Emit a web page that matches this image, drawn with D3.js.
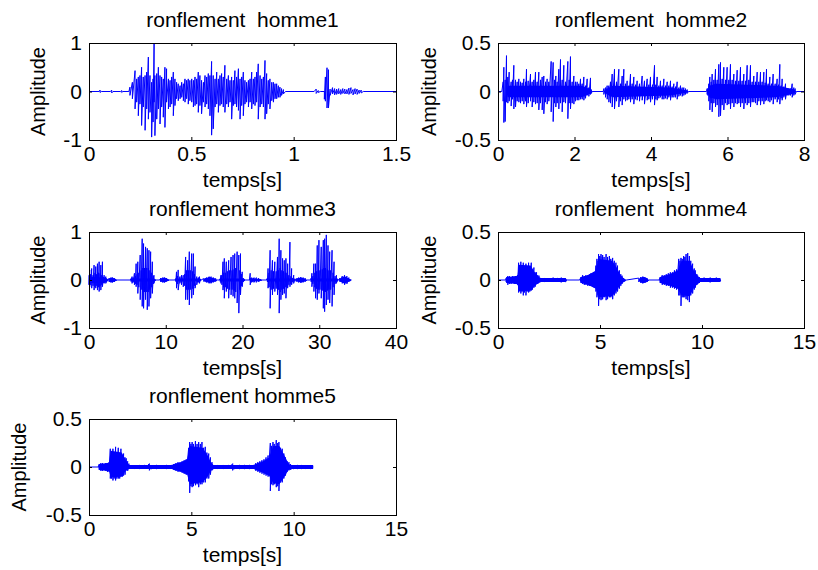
<!DOCTYPE html>
<html>
<head>
<meta charset="utf-8">
<script src="https://cdn.jsdelivr.net/npm/d3@7"></script>
<style>
body { margin: 0; background: #fff; }
svg text { font-family: "Liberation Sans", Arial, sans-serif; fill: #000; }
</style>
</head>
<body>
<div id="chart"></div>
<script>
// titles and ticks
const titles = ["ronflement  homme1", "ronflement  homme2", "ronflement homme3", "ronflement  homme4", "ronflement homme5"];
const xTicks = [[0, 0.5, 1, 1.5], [0, 2, 4, 6, 8], [0, 10, 20, 30, 40], [0, 5, 10, 15], [0, 5, 10, 15]];
const yTicks = [[-1, 0, 1], [-0.5, 0, 0.5], [-1, 0, 1], [-0.5, 0, 0.5], [-0.5, 0, 0.5]];
const xLabel = "temps[s]";
const yLabel = "Amplitude";

// waveform peaks: [time s, upper peak, lower peak]
const homme1 = [
  [0,0,0],[0.05,0,0],[0.054,0.03,-0.02],[0.06,0,0],[0.105,0,0],[0.111,0.03,-0.03],[0.117,0,0],[0.155,0,0],[0.16,0.02,-0.02],[0.165,0,0],[0.195,0,0],
  [0.2,0.09,-0.08],[0.212,0.19,-0.15],[0.225,0.43,-0.36],[0.233,0.26,-0.22],[0.241,0.3,-0.5],[0.249,0.33,-0.26],[0.257,0.5,-0.7],[0.265,0.3,-0.32],
  [0.274,0.33,-0.8],[0.282,0.4,-0.36],[0.29,0.71,-0.57],[0.298,0.33,-0.43],[0.306,0.19,-0.94],[0.313,0.26,-0.63],[0.318,0.99,-0.22],[0.322,0.33,-0.91],
  [0.331,0.37,-0.57],[0.339,0.5,-0.36],[0.347,0.33,-0.67],[0.355,0.3,-0.32],[0.363,0.26,-0.53],[0.371,0.5,-0.74],[0.379,0.47,-0.22],[0.388,0.26,-0.36],
  [0.396,0.23,-0.32],[0.404,0.3,-0.26],[0.412,0.4,-0.5],[0.42,0.26,-0.29],[0.428,0.19,-0.15],[0.436,0.16,-0.19],[0.445,0.12,-0.15],[0.453,0.19,-0.12],
  [0.461,0.16,-0.19],[0.469,0.26,-0.22],[0.477,0.23,-0.15],[0.485,0.26,-0.26],[0.493,0.23,-0.19],[0.502,0.26,-0.22],[0.51,0.23,-0.32],[0.518,0.3,-0.29],
  [0.526,0.26,-0.26],[0.534,0.4,-0.43],[0.542,0.33,-0.29],[0.55,0.23,-0.46],[0.559,0.19,-0.22],[0.567,0.33,-0.32],[0.575,0.3,-0.26],[0.583,0.37,-0.36],
  [0.591,0.33,-0.5],[0.599,0.62,-0.9],[0.607,0.33,-0.77],[0.616,0.26,-0.32],[0.624,0.4,-0.26],[0.632,0.26,-0.43],[0.64,0.33,-0.29],[0.648,0.37,-0.26],
  [0.656,0.3,-0.32],[0.664,0.54,-0.43],[0.673,0.26,-0.26],[0.681,0.33,-0.32],[0.689,0.23,-0.22],[0.697,0.3,-0.57],[0.705,0.23,-0.29],[0.713,0.43,-0.26],
  [0.721,0.3,-0.32],[0.73,0.47,-0.39],[0.738,0.26,-0.57],[0.746,0.3,-0.29],[0.754,0.4,-0.5],[0.762,0.23,-0.26],[0.77,0.19,-0.22],[0.779,0.23,-0.32],
  [0.787,0.26,-0.22],[0.795,0.4,-0.36],[0.803,0.26,-0.26],[0.811,0.3,-0.29],[0.819,0.4,-0.22],[0.827,0.57,-0.57],[0.836,0.33,-0.32],[0.844,0.26,-0.26],
  [0.852,0.3,-0.32],[0.86,0.64,-0.57],[0.868,0.37,-0.46],[0.876,0.23,-0.26],[0.884,0.26,-0.36],[0.893,0.19,-0.19],[0.901,0.19,-0.22],[0.909,0.16,-0.15],
  [0.917,0.16,-0.15],[0.925,0.12,-0.12],[0.933,0.09,-0.12],[0.941,0.06,-0.08],[0.95,0.04,-0.05],[0.96,0,0],
  [1.1,0,0],[1.11,0.05,-0.04],[1.12,0.02,-0.02],[1.13,0,0],[1.15,0,-0.16],[1.155,0.3,-0.2],[1.163,0.49,-0.34],[1.17,0.45,-0.34],[1.178,0.05,-0.08],
  [1.19,0.08,-0.05],[1.2,0.06,-0.07],[1.21,0.05,-0.06],[1.22,0.06,-0.05],[1.23,0.04,-0.06],[1.24,0.06,-0.04],[1.25,0.05,-0.05],[1.26,0.04,-0.05],
  [1.27,0.07,-0.06],[1.28,0.08,-0.04],[1.29,0.04,-0.07],[1.3,0.06,-0.05],[1.31,0.05,-0.06],[1.32,0.03,-0.04],[1.33,0.03,-0.03],[1.34,0,0],[1.5,0,0]
];

const homme2 = [
  [0,0,0],[0.1,0,0],[0.135,0.1,-0.1],[0.153,0.25,-0.32],[0.187,0.12,-0.31],[0.222,0.37,-0.11],[0.257,0.15,-0.12],[0.292,0.2,-0.1],[0.344,0.1,-0.15],
  [0.379,0.12,-0.08],[0.414,0.27,-0.18],[0.458,0.12,-0.16],[0.501,0.1,-0.1],[0.545,0.13,-0.11],[0.588,0.1,-0.12],[0.632,0.09,-0.1],[0.675,0.13,-0.13],
  [0.719,0.1,-0.1],[0.745,0.23,-0.16],[0.789,0.11,-0.12],[0.85,0.18,-0.1],[0.893,0.1,-0.16],[0.937,0.12,-0.11],[0.98,0.2,-0.13],[1.024,0.1,-0.12],
  [1.067,0.2,-0.19],[1.111,0.12,-0.12],[1.155,0.15,-0.19],[1.198,0.16,-0.23],[1.242,0.1,-0.11],[1.285,0.13,-0.13],[1.329,0.1,-0.1],[1.39,0.31,-0.21],
  [1.442,0.3,-0.31],[1.477,0.12,-0.12],[1.512,0.16,-0.16],[1.547,0.1,-0.12],[1.59,0.23,-0.18],[1.634,0.33,-0.12],[1.678,0.12,-0.21],[1.721,0.27,-0.11],
  [1.765,0.1,-0.12],[1.826,0.31,-0.28],[1.861,0.12,-0.12],[1.895,0.36,-0.18],[1.939,0.1,-0.12],[1.983,0.16,-0.13],[2.026,0.1,-0.1],[2.07,0.1,-0.09],
  [2.113,0.08,-0.09],[2.157,0.13,-0.08],[2.2,0.08,-0.08],[2.244,0.15,-0.09],[2.288,0.06,-0.07],[2.331,0.13,-0.04],[2.375,0.04,-0.05],[2.418,0.14,-0.03],
  [2.44,0.02,-0.02],[2.46,0,0],[2.75,0,0],
  [2.767,0.03,-0.03],[2.81,0.04,-0.06],[2.854,0.06,-0.08],[2.898,0.06,-0.11],[2.941,0.1,-0.12],[2.985,0.18,-0.16],[3.046,0.23,-0.18],[3.098,0.1,-0.1],
  [3.159,0.23,-0.16],[3.203,0.08,-0.1],[3.246,0.16,-0.14],[3.29,0.23,-0.08],[3.333,0.08,-0.1],[3.377,0.11,-0.09],[3.42,0.06,-0.08],[3.464,0.18,-0.11],
  [3.508,0.08,-0.08],[3.551,0.15,-0.13],[3.595,0.07,-0.08],[3.638,0.11,-0.09],[3.699,0.08,-0.1],[3.769,0.16,-0.09],[3.83,0.11,-0.13],[3.9,0.13,-0.09],
  [3.943,0.07,-0.08],[3.987,0.15,-0.11],[4.039,0.07,-0.08],[4.092,0.27,-0.14],[4.126,0.07,-0.08],[4.161,0.15,-0.09],[4.205,0.06,-0.07],[4.248,0.11,-0.06],
  [4.292,0.06,-0.08],[4.336,0.13,-0.08],[4.379,0.06,-0.07],[4.423,0.1,-0.08],[4.466,0.06,-0.06],[4.51,0.11,-0.09],[4.553,0.05,-0.06],[4.597,0.08,-0.06],
  [4.641,0.05,-0.06],[4.684,0.1,-0.08],[4.728,0.04,-0.05],[4.771,0.06,-0.04],[4.815,0.04,-0.05],[4.858,0.04,-0.04],[4.902,0.03,-0.03],[4.946,0.02,-0.02],
  [4.98,0,0],[5.45,0,0],
  [5.468,0.03,-0.03],[5.486,0.03,-0.04],[5.512,0.08,-0.1],[5.538,0.15,-0.19],[5.573,0.1,-0.12],[5.599,0.18,-0.21],[5.643,0.12,-0.12],[5.686,0.23,-0.16],
  [5.73,0.12,-0.14],[5.773,0.28,-0.26],[5.817,0.3,-0.25],[5.86,0.13,-0.14],[5.904,0.25,-0.19],[5.948,0.12,-0.12],[5.991,0.25,-0.14],[6.035,0.12,-0.13],
  [6.078,0.28,-0.18],[6.122,0.12,-0.12],[6.166,0.18,-0.16],[6.209,0.11,-0.12],[6.253,0.22,-0.13],[6.296,0.11,-0.12],[6.34,0.25,-0.16],[6.383,0.11,-0.12],
  [6.427,0.18,-0.18],[6.471,0.11,-0.12],[6.514,0.27,-0.14],[6.558,0.12,-0.12],[6.601,0.27,-0.16],[6.645,0.1,-0.11],[6.688,0.16,-0.11],[6.732,0.1,-0.12],
  [6.776,0.2,-0.14],[6.819,0.1,-0.1],[6.863,0.2,-0.14],[6.906,0.1,-0.1],[6.95,0.2,-0.13],[6.985,0.09,-0.1],[7.02,0.23,-0.09],[7.063,0.08,-0.1],
  [7.107,0.15,-0.11],[7.15,0.08,-0.09],[7.194,0.18,-0.13],[7.246,0.08,-0.08],[7.298,0.13,-0.11],[7.333,0.07,-0.08],[7.368,0.28,-0.13],[7.403,0.06,-0.07],
  [7.429,0.13,-0.09],[7.473,0.05,-0.06],[7.516,0.08,-0.08],[7.56,0.03,-0.04],[7.603,0.03,-0.04],[7.647,0.03,-0.04],[7.691,0.08,-0.06],[7.734,0.04,-0.04],
  [7.769,0.03,-0.03],[7.8,0,0],[8,0,0]
];

const homme3 = [
  [0,0.1,-0.1],[0.09,0.21,-0.14],[0.22,0.12,-0.1],[0.35,0.24,-0.17],[0.53,0.1,-0.12],[0.66,0.31,-0.21],[0.79,0.15,-0.14],[0.88,0.28,-0.17],
  [1.01,0.12,-0.12],[1.1,0.34,-0.21],[1.23,0.15,-0.15],[1.32,0.38,-0.24],[1.45,0.14,-0.13],[1.54,0.31,-0.21],[1.67,0.1,-0.1],[1.75,0.38,-0.14],
  [1.89,0.06,-0.06],[1.97,0.1,-0.07],[2.19,0.07,-0.07],[2.41,0.02,-0.02],[2.55,0,0],
  [2.63,0.04,-0.04],[2.85,0.05,-0.05],[3.07,0.05,-0.05],[3.29,0.04,-0.04],[3.5,0.02,-0.02],[3.6,0,0],[5.4,0,0],
  [5.48,0.03,-0.03],[5.61,0.07,-0.07],[5.75,0.05,-0.05],[5.92,0.14,-0.1],[6.05,0.08,-0.08],[6.14,0.34,-0.14],[6.27,0.12,-0.1],[6.36,0.38,-0.28],
  [6.49,0.15,-0.15],[6.67,0.52,-0.41],[6.8,0.2,-0.2],[6.93,0.86,-0.55],[7.02,0.25,-0.25],[7.11,0.76,-0.59],[7.24,0.25,-0.25],[7.37,0.69,-0.41],
  [7.46,0.25,-0.25],[7.59,0.66,-0.62],[7.72,0.25,-0.25],[7.81,0.62,-0.55],[7.94,0.2,-0.2],[8.03,0.59,-0.38],[8.16,0.15,-0.15],[8.25,0.38,-0.28],
  [8.38,0.08,-0.08],[8.46,0.1,-0.07],[8.6,0.02,-0.02],[8.7,0,0],[9.2,0,0],
  [9.35,0.04,-0.04],[9.6,0.05,-0.05],[9.85,0.05,-0.05],[10.1,0.04,-0.03],[10.3,0.02,-0.02],[10.4,0,0],[11.2,0,0],
  [11.32,0.03,-0.03],[11.4,0.17,-0.17],[11.54,0.08,-0.08],[11.62,0.21,-0.21],[11.84,0.07,-0.07],[12.06,0.1,-0.1],[12.28,0.1,-0.14],[12.46,0.12,-0.12],
  [12.59,0.48,-0.41],[12.72,0.2,-0.2],[12.85,0.41,-0.41],[12.98,0.2,-0.2],[13.07,0.59,-0.52],[13.2,0.2,-0.2],[13.38,0.55,-0.38],[13.51,0.18,-0.18],
  [13.6,0.55,-0.31],[13.73,0.12,-0.12],[13.82,0.28,-0.17],[14.04,0.07,-0.1],[14.25,0.05,-0.05],[14.39,0.07,-0.07],[14.52,0.02,-0.02],[14.6,0,0],
  [14.95,0.03,-0.03],[15.3,0.05,-0.05],[15.65,0.07,-0.07],[15.9,0.07,-0.07],[16.2,0.05,-0.05],[16.5,0.03,-0.03],[16.7,0,0],[17,0,0],
  [17.1,0.03,-0.03],[17.19,0.1,-0.07],[17.32,0.1,-0.1],[17.46,0.38,-0.21],[17.54,0.15,-0.15],[17.63,0.45,-0.38],[17.76,0.15,-0.15],[17.89,0.38,-0.24],
  [18.03,0.18,-0.18],[18.2,0.41,-0.38],[18.33,0.2,-0.2],[18.51,0.48,-0.31],[18.64,0.2,-0.2],[18.77,0.52,-0.34],[18.9,0.22,-0.22],[18.99,0.55,-0.38],
  [19.12,0.25,-0.25],[19.3,0.59,-0.48],[19.52,0.52,-0.69],[19.65,0.2,-0.2],[19.74,0.55,-0.31],[19.87,0.12,-0.12],[19.96,0.17,-0.14],[20.09,0.04,-0.04],
  [20.22,0.02,-0.02],[20.3,0,0],[20.9,0,0],
  [21,0.14,-0.1],[21.2,0.05,-0.05],[21.5,0.05,-0.05],[21.8,0.05,-0.05],[22.1,0.04,-0.04],[22.4,0.02,-0.02],[22.5,0,0],[23.1,0,0],
  [23.25,0.04,-0.04],[23.33,0.24,-0.17],[23.46,0.15,-0.15],[23.6,0.62,-0.59],[23.73,0.2,-0.2],[23.9,0.41,-0.31],[24.04,0.18,-0.18],[24.21,0.38,-0.24],
  [24.39,0.18,-0.18],[24.56,0.48,-0.31],[24.69,0.2,-0.2],[24.78,0.86,-0.69],[24.91,0.25,-0.25],[25,0.62,-0.41],[25.13,0.2,-0.2],[25.22,0.45,-0.31],
  [25.35,0.18,-0.18],[25.44,0.41,-0.28],[25.57,0.15,-0.15],[25.66,0.45,-0.38],[25.79,0.15,-0.15],[25.88,0.34,-0.17],[26.05,0.1,-0.1],[26.18,0.79,-0.14],
  [26.32,0.08,-0.08],[26.4,0.24,-0.1],[26.54,0.04,-0.04],[26.67,0.1,-0.07],[26.8,0.02,-0.02],[26.9,0,0],
  [27,0.03,-0.03],[27.3,0.05,-0.05],[27.6,0.06,-0.06],[27.9,0.05,-0.05],[28.2,0.03,-0.03],[28.4,0,0],[28.9,0,0],
  [28.95,0.04,-0.04],[29.04,0.14,-0.14],[29.17,0.08,-0.08],[29.3,0.34,-0.24],[29.43,0.15,-0.15],[29.52,0.34,-0.38],[29.65,0.18,-0.18],[29.74,0.72,-0.41],
  [29.87,0.2,-0.2],[29.96,0.83,-0.28],[30.09,0.2,-0.2],[30.26,0.69,-0.38],[30.39,0.22,-0.22],[30.53,0.83,-0.59],[30.61,0.25,-0.25],[30.7,0.86,-0.66],
  [30.79,0.25,-0.25],[30.92,0.94,-0.52],[31.05,0.22,-0.22],[31.14,0.72,-0.41],[31.27,0.2,-0.2],[31.36,0.59,-0.48],[31.49,0.2,-0.2],[31.67,0.62,-0.55],
  [31.8,0.15,-0.15],[31.93,0.38,-0.31],[32.06,0.08,-0.08],[32.24,0.1,-0.07],[32.37,0.02,-0.02],[32.5,0,0],
  [32.7,0.04,-0.04],[33,0.08,-0.07],[33.3,0.1,-0.1],[33.6,0.08,-0.08],[33.85,0.05,-0.04],[34,0.02,-0.02],[34.2,0,0]
];

const homme4 = [
  [0,0,0],[0.38,0,0],
  [0.4,0.02,-0.02],[0.48,0.04,-0.05],[0.56,0.04,-0.04],[0.64,0.03,-0.04],[0.72,0.04,-0.03],[0.8,0.03,-0.04],[0.88,0.03,-0.03],[0.96,0.05,-0.05],
  [1.01,0.18,-0.13],[1.07,0.12,-0.1],[1.12,0.19,-0.14],[1.18,0.14,-0.12],[1.24,0.18,-0.16],[1.3,0.14,-0.13],[1.37,0.17,-0.16],[1.43,0.13,-0.12],
  [1.5,0.18,-0.13],[1.56,0.12,-0.12],[1.63,0.18,-0.11],[1.69,0.1,-0.1],[1.76,0.13,-0.08],[1.82,0.08,-0.07],[1.89,0.08,-0.04],[1.95,0.05,-0.04],
  [2.01,0.045,-0.025],[2.1,0.02,-0.02],
  [2.3,0.02,-0.02],[2.5,0.02,-0.02],[2.7,0.025,-0.02],[2.9,0.02,-0.02],[3.1,0.025,-0.025],[3.3,0.02,-0.02],[3.4,0,0],[4,0,0],
  [4.07,0.03,-0.03],[4.15,0.05,-0.04],[4.23,0.04,-0.05],[4.31,0.05,-0.05],[4.4,0.05,-0.06],[4.48,0.06,-0.06],[4.56,0.07,-0.06],[4.64,0.07,-0.07],[4.72,0.08,-0.08],
  [4.8,0.15,-0.12],[4.85,0.22,-0.18],[4.9,0.2,-0.16],[4.93,0.27,-0.27],[4.99,0.25,-0.2],[5.05,0.27,-0.21],[5.11,0.24,-0.2],[5.13,0.26,-0.2],
  [5.2,0.24,-0.18],[5.3,0.27,-0.21],[5.37,0.24,-0.2],[5.46,0.25,-0.18],[5.53,0.22,-0.18],[5.62,0.23,-0.2],[5.7,0.2,-0.16],[5.78,0.18,-0.14],
  [5.86,0.15,-0.12],[5.95,0.1,-0.09],[6.02,0.06,-0.06],[6.08,0.045,-0.04],[6.15,0.02,-0.02],[6.3,0,0],
  [6.9,0.02,-0.02],[7,0.03,-0.03],[7.1,0.035,-0.035],[7.2,0.03,-0.03],[7.3,0.02,-0.02],[7.4,0,0],[7.9,0,0],
  [7.95,0.03,-0.03],[8.05,0.05,-0.05],[8.15,0.05,-0.05],[8.25,0.06,-0.06],[8.35,0.07,-0.06],[8.45,0.08,-0.08],[8.55,0.08,-0.08],[8.65,0.1,-0.09],[8.75,0.11,-0.1],
  [8.86,0.22,-0.16],[8.92,0.2,-0.16],[8.97,0.23,-0.27],[9.03,0.22,-0.18],[9.1,0.25,-0.18],[9.16,0.24,-0.18],[9.22,0.27,-0.2],[9.3,0.28,-0.21],
  [9.38,0.25,-0.23],[9.45,0.2,-0.16],[9.54,0.17,-0.14],[9.62,0.12,-0.1],[9.67,0.1,-0.08],[9.75,0.06,-0.05],[9.79,0.045,-0.04],[9.87,0.03,-0.03],
  [9.95,0.02,-0.02],[10.1,0.025,-0.02],[10.25,0.02,-0.02],[10.4,0.025,-0.025],[10.55,0.02,-0.02],[10.7,0.025,-0.02],[10.85,0.02,-0.02],[10.93,0,0]
];

const homme5 = [
  [0,0,0],[0.45,0,0],
  [0.5,0.03,-0.03],[0.58,0.04,-0.04],[0.66,0.04,-0.04],[0.74,0.03,-0.03],[0.82,0.04,-0.04],[0.9,0.04,-0.05],[0.98,0.05,-0.05],
  [1.04,0.19,-0.12],[1.1,0.14,-0.12],[1.17,0.19,-0.14],[1.23,0.15,-0.12],[1.3,0.21,-0.14],[1.36,0.15,-0.12],[1.43,0.2,-0.12],[1.5,0.14,-0.12],
  [1.56,0.19,-0.1],[1.63,0.12,-0.1],[1.69,0.14,-0.09],[1.76,0.1,-0.08],[1.82,0.09,-0.035],[1.89,0.06,-0.04],[1.95,0.035,-0.02],[2.05,0.02,-0.02],
  [2.2,0.02,-0.02],[2.45,0.02,-0.02],[2.7,0.02,-0.02],[2.95,0.035,-0.035],[3.05,0.02,-0.02],[3.3,0.02,-0.02],[3.55,0.015,-0.015],[3.8,0.02,-0.02],[4.05,0.02,-0.02],
  [4.15,0.03,-0.03],[4.25,0.04,-0.04],[4.35,0.05,-0.05],[4.45,0.05,-0.05],[4.55,0.06,-0.06],[4.65,0.07,-0.07],[4.75,0.08,-0.08],
  [4.87,0.2,-0.15],[4.92,0.26,-0.27],[4.98,0.24,-0.2],[5.04,0.26,-0.21],[5.1,0.24,-0.2],[5.2,0.27,-0.19],[5.28,0.24,-0.18],[5.36,0.26,-0.21],
  [5.44,0.24,-0.18],[5.52,0.26,-0.18],[5.6,0.2,-0.16],[5.68,0.21,-0.16],[5.76,0.15,-0.12],[5.85,0.14,-0.12],[5.93,0.1,-0.08],[6.01,0.05,-0.035],[6.08,0.02,-0.02],
  [6.3,0.02,-0.02],[6.55,0.02,-0.02],[6.8,0.02,-0.02],[7.02,0.035,-0.035],[7.1,0.02,-0.02],[7.35,0.02,-0.02],[7.6,0.02,-0.02],[7.85,0.02,-0.02],[8.05,0.02,-0.02],
  [8.15,0.04,-0.04],[8.25,0.05,-0.05],[8.35,0.06,-0.06],[8.45,0.07,-0.07],[8.55,0.08,-0.08],[8.65,0.1,-0.09],[8.75,0.12,-0.1],
  [8.86,0.25,-0.25],[8.92,0.22,-0.18],[8.99,0.26,-0.19],[9.05,0.24,-0.18],[9.15,0.28,-0.21],[9.22,0.25,-0.2],[9.28,0.26,-0.25],[9.36,0.2,-0.16],
  [9.44,0.19,-0.16],[9.52,0.14,-0.12],[9.6,0.1,-0.09],[9.68,0.06,-0.05],[9.77,0.05,-0.035],[9.85,0.03,-0.03],
  [10,0.02,-0.02],[10.2,0.02,-0.02],[10.4,0.02,-0.02],[10.6,0.02,-0.02],[10.8,0.02,-0.02],[10.95,0,0]
];

// dense inner band of each signal, where the trace looks solid: [time s, top, bottom]
const band1 = [];
const band2 = [
  [0.22,0,0],[0.25,0.06,-0.06],[2.2,0.06,-0.06],[2.42,0.02,-0.02],[2.46,0,0],[2.77,0,0],[2.85,0.03,-0.03],[3.0,0.06,-0.06],[4.5,0.04,-0.04],
  [4.95,0.01,-0.01],[4.98,0,0],[5.47,0,0],[5.52,0.06,-0.06],[5.7,0.08,-0.08],[7.3,0.06,-0.06],[7.75,0.02,-0.02],[7.8,0,0]
];
const band3 = [
  [0,0.06,-0.06],[2.2,0.05,-0.05],[2.41,0.02,-0.02],[2.55,0,0],[2.6,0.03,-0.03],[3.0,0.05,-0.05],[3.5,0.02,-0.02],[3.6,0,0],
  [5.4,0,0],[5.5,0.03,-0.03],[8.5,0.03,-0.03],[8.7,0,0],[9.2,0,0],[9.3,0.03,-0.03],[9.8,0.05,-0.05],[10.3,0.02,-0.02],[10.4,0,0],
  [11.2,0,0],[11.3,0.03,-0.03],[14.5,0.03,-0.03],[14.6,0,0],[14.9,0,0],[15.0,0.03,-0.03],[15.7,0.06,-0.06],[16.5,0.03,-0.03],[16.7,0,0],
  [17.0,0,0],[17.1,0.03,-0.03],[20.2,0.03,-0.03],[20.3,0,0],[20.9,0,0],[21.0,0.04,-0.04],[22.4,0.02,-0.02],[22.5,0,0],
  [23.1,0,0],[23.2,0.03,-0.03],[26.8,0.03,-0.03],[26.9,0,0],[27.0,0.03,-0.03],[27.6,0.05,-0.05],[28.2,0.03,-0.03],[28.4,0,0],
  [28.9,0,0],[28.95,0.03,-0.03],[32.4,0.03,-0.03],[32.5,0,0],[32.7,0.03,-0.03],[33.3,0.08,-0.08],[34.0,0.02,-0.02],[34.2,0,0]
];
const band4 = [
  [0.38,0,0],[0.4,0.03,-0.03],[0.96,0.045,-0.045],[1.02,0.16,-0.12],[1.6,0.15,-0.11],[1.8,0.08,-0.06],[2.0,0.03,-0.03],[2.1,0.02,-0.02],
  [3.3,0.02,-0.02],[3.4,0,0],[4.0,0,0],[4.07,0.03,-0.03],[4.4,0.05,-0.05],[4.8,0.1,-0.09],[4.95,0.22,-0.18],[5.6,0.2,-0.17],[5.85,0.12,-0.1],
  [6.0,0.05,-0.05],[6.15,0.02,-0.02],[6.3,0,0],[6.9,0,0],[6.95,0.02,-0.02],[7.1,0.035,-0.035],[7.3,0.02,-0.02],[7.4,0,0],[7.9,0,0],
  [7.95,0.03,-0.03],[8.4,0.06,-0.06],[8.8,0.1,-0.09],[9.0,0.2,-0.16],[9.4,0.2,-0.17],[9.6,0.1,-0.08],[9.8,0.04,-0.04],[9.9,0.02,-0.02],
  [10.9,0.02,-0.02],[10.93,0,0]
];
const band5 = [
  [0.45,0,0],[0.5,0.03,-0.03],[0.98,0.045,-0.045],[1.06,0.17,-0.11],[1.6,0.15,-0.1],[1.8,0.07,-0.04],[1.95,0.02,-0.02],[4.05,0.02,-0.02],
  [4.15,0.03,-0.03],[4.5,0.05,-0.05],[4.8,0.08,-0.08],[4.92,0.22,-0.18],[5.55,0.2,-0.16],[5.8,0.12,-0.1],[5.95,0.05,-0.04],[6.08,0.02,-0.02],
  [8.05,0.02,-0.02],[8.15,0.03,-0.03],[8.5,0.06,-0.06],[8.8,0.1,-0.09],[9.0,0.22,-0.17],[9.3,0.22,-0.18],[9.55,0.12,-0.1],[9.75,0.035,-0.03],
  [9.85,0.02,-0.02],[10.95,0.02,-0.02],[10.96,0,0]
];

const series = [homme1, homme2, homme3, homme4, homme5];
const bands = [band1, band2, band3, band4, band5];

// axes boxes in page pixels
const boxes = [
  {l: 89,  t: 43,  r: 396, b: 140, yl: 51},
  {l: 498, t: 43,  r: 804, b: 140, yl: 69},
  {l: 89,  t: 232, r: 396, b: 328, yl: 51},
  {l: 498, t: 232, r: 804, b: 328, yl: 69},
  {l: 89,  t: 419, r: 396, b: 515, yl: 70}
];

const font = '"Liberation Sans", Arial, sans-serif';

const svg = d3.select("#chart").append("svg")
    .attr("width", 818)
    .attr("height", 570);

series.forEach(function(data, i) {
    const b = boxes[i];
    const x = d3.scaleLinear().domain(d3.extent(xTicks[i])).range([b.l, b.r]);
    const y = d3.scaleLinear().domain(d3.extent(yTicks[i])).range([b.b, b.t]);
    const g = svg.append("g");

    if (bands[i].length) {
        g.append("path")
            .datum(bands[i])
            .attr("d", d3.area().x(d => x(d[0])).y0(d => y(d[2])).y1(d => y(d[1])))
            .attr("fill", "#0000ff");
    }

    // each sample is drawn upper peak -> lower peak, then on to the next one
    const pts = [];
    data.forEach(d => { pts.push([d[0], d[1]]); pts.push([d[0], d[2]]); });

    g.append("path")
        .datum(pts)
        .attr("d", d3.line().x(d => x(d[0])).y(d => y(d[1])))
        .attr("fill", "none")
        .attr("stroke", "#0000ff")
        .attr("stroke-width", 1);

    // bottom + left with labels, top + right ticks only
    const fmt = d => String(d);
    g.append("g")
        .attr("transform", `translate(0,${b.b})`)
        .call(d3.axisBottom(x).tickValues(xTicks[i]).tickSizeInner(-3).tickSizeOuter(0).tickPadding(6).tickFormat(fmt))
        .call(a => a.select(".domain").remove())
        .attr("font-size", 21).attr("font-family", font);
    g.append("g")
        .attr("transform", `translate(0,${b.t})`)
        .call(d3.axisTop(x).tickValues(xTicks[i]).tickSizeInner(-3).tickSizeOuter(0).tickFormat(""))
        .call(a => a.select(".domain").remove());
    g.append("g")
        .attr("transform", `translate(${b.l},0)`)
        .call(d3.axisLeft(y).tickValues(yTicks[i]).tickSizeInner(-3).tickSizeOuter(0).tickPadding(7).tickFormat(fmt))
        .call(a => a.select(".domain").remove())
        .attr("font-size", 21).attr("font-family", font);
    g.append("g")
        .attr("transform", `translate(${b.r},0)`)
        .call(d3.axisRight(y).tickValues(yTicks[i]).tickSizeInner(-3).tickSizeOuter(0).tickFormat(""))
        .call(a => a.select(".domain").remove());
    g.selectAll(".tick line").attr("stroke", "#000");
    g.selectAll(".tick text").attr("fill", "#000");

    g.append("rect")
        .attr("x", b.l + 0.5).attr("y", b.t + 0.5)
        .attr("width", b.r - b.l).attr("height", b.b - b.t)
        .attr("fill", "none").attr("stroke", "#000").attr("stroke-width", 1);

    g.append("text")
        .attr("x", (b.l + b.r) / 2).attr("y", b.t - 16)
        .attr("text-anchor", "middle")
        .attr("font-size", 21)
        .style("white-space", "pre")
        .text(titles[i]);

    g.append("text")
        .attr("x", (b.l + b.r) / 2).attr("y", b.b + 47)
        .attr("text-anchor", "middle")
        .attr("font-size", 21)
        .text(xLabel);

    g.append("text")
        .attr("transform", `translate(${b.l - b.yl},${(b.t + b.b) / 2}) rotate(-90)`)
        .attr("text-anchor", "middle")
        .attr("dy", "0.35em")
        .attr("font-size", 20)
        .text(yLabel);
});
</script>
</body>
</html>
